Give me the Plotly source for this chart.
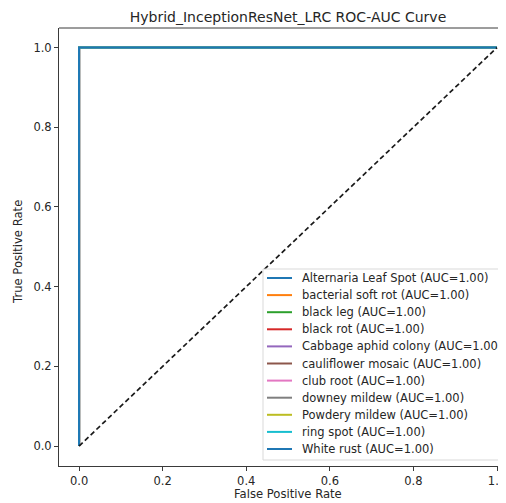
import plotly.graph_objects as go

classes = ["Alternaria Leaf Spot", "bacterial soft rot", "black leg", "black rot",
           "Cabbage aphid colony", "cauliflower mosaic", "club root", "downey mildew",
           "Powdery mildew", "ring spot", "White rust"]
auc = [1.00] * 11
fpr = [0.0, 0.0, 1.0]
tpr = [0.0, 1.0, 1.0]
colors = ["#1f77b4", "#ff7f0e", "#2ca02c", "#d62728", "#9467bd", "#8c564b",
          "#e377c2", "#7f7f7f", "#bcbd22", "#17becf", "#1f77b4"]
diag_x = [0.0, 1.0]
diag_y = [0.0, 1.0]
xticks = [0.0, 0.2, 0.4, 0.6, 0.8, 1.0]
yticks = [0.0, 0.2, 0.4, 0.6, 0.8, 1.0]

# the page body has an 8px margin; the figure is sized so it ends at the window edge
OFF = 8
W, H = 506 - OFF, 503 - OFF
L, R, T, B = 59 - OFF, 0, 28 - OFF, 37
PW, PH = W - L - R, H - T - B


def px(xp):  # reference-window pixel -> paper
    return (xp - OFF - L) / PW


def py(yp):
    return (H - B - (yp - OFF)) / PH


fig = go.Figure()
for name, a, c in zip(classes, auc, colors):
    fig.add_trace(go.Scatter(x=fpr, y=tpr, mode="lines", name=f"{name} (AUC={a:.2f})",
                             line=dict(color=c, width=2), showlegend=False))
fig.add_trace(go.Scatter(x=diag_x, y=diag_y, mode="lines", showlegend=False,
                         line=dict(color="#1a1a1a", width=1.7, dash="5px,3px")))

font = "DejaVu Sans, sans-serif"
txt = "#262626"
spine = "#3a3a3a"

shapes = [
    dict(type="line", xref="paper", yref="paper", x0=0, x1=1, y0=1, y1=1,
         line=dict(color=spine, width=1)),
    dict(type="rect", xref="paper", yref="paper", x0=px(263), x1=px(515), y0=py(460), y1=py(269),
         fillcolor="rgba(255,255,255,0.85)", line=dict(color="#d9d9d9", width=1)),
]
annotations = [
    dict(text="False Positive Rate", xref="paper", yref="paper", x=px(287.5), y=py(494),
         xanchor="center", yanchor="middle", showarrow=False, font=dict(size=11.6, color=txt)),
    dict(text="True Positive Rate", xref="paper", yref="paper", x=px(18), y=py(252),
         xanchor="center", yanchor="middle", textangle=-90, showarrow=False,
         font=dict(size=11.6, color=txt)),
]
for i, (name, a, c) in enumerate(zip(classes, auc, colors)):
    yy = 278 + 17.1 * i
    shapes.append(dict(type="line", xref="paper", yref="paper", x0=px(267), x1=px(292),
                       y0=py(yy), y1=py(yy), line=dict(color=c, width=2)))
    annotations.append(dict(text=f"{name} (AUC={a:.2f})", xref="paper", yref="paper",
                            x=px(300), y=py(yy), xanchor="left", yanchor="middle",
                            showarrow=False, font=dict(size=11.5, color=txt)))

fig.update_layout(
    width=W, height=H,
    margin=dict(l=L, r=R, t=T, b=B, autoexpand=False),
    paper_bgcolor="white", plot_bgcolor="white",
    font=dict(family=font, size=11.5, color=txt),
    showlegend=False,
    title=dict(text="Hybrid_InceptionResNet_LRC ROC-AUC Curve", x=(288 - OFF) / W, xref="container",
               xanchor="center", y=1 - (17 - OFF) / H, yref="container", yanchor="middle",
               font=dict(size=14, color=txt)),
    xaxis=dict(range=[-0.048, 1.0215], tickvals=xticks, ticktext=[f"{v:.1f}" for v in xticks],
               showgrid=False, zeroline=False, showline=True, linecolor=spine, linewidth=1,
               ticks="outside", ticklen=4, tickcolor=spine, ticklabeloverflow="allow",
               tickfont=dict(size=11.5, color=txt)),
    yaxis=dict(range=[-0.05, 1.049], tickvals=yticks, ticktext=[f"{v:.1f}" for v in yticks],
               showgrid=False, zeroline=False, showline=True, linecolor=spine, linewidth=1,
               ticks="outside", ticklen=4, tickcolor=spine, ticklabeloverflow="allow",
               tickfont=dict(size=11.5, color=txt)),
    shapes=shapes,
    annotations=annotations,
)
fig.write_html("out.html")
